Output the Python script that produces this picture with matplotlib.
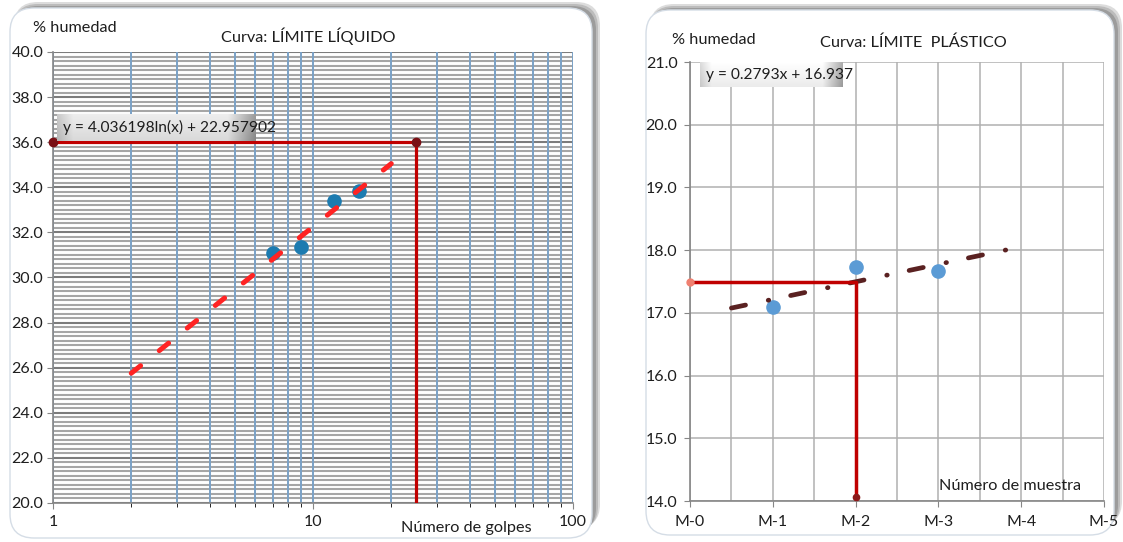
import matplotlib.pyplot as plt
import numpy as np
from matplotlib.patches import FancyBboxPatch
from matplotlib.ticker import MultipleLocator, NullFormatter, FuncFormatter, FormatStrFormatter

plt.rcParams['font.family'] = ['Lato', 'DejaVu Sans']
plt.rcParams['lines.scale_dashes'] = False

W, H = 1123, 542

# límite líquido
golpes = [7, 9, 12, 15]
humedad_ll = [31.1, 31.35, 33.4, 33.85]
a_ll, b_ll = 4.036198, 22.957902
golpes_ref = [1, 25, 25]
humedad_ref_ll = [36.0, 36.0, 20.0]

# límite plástico
muestras = [1, 2, 3]
humedad_lp = [17.10, 17.73, 17.66]
m_lp, c_lp = 0.2793, 16.937
muestra_ref = [0, 2, 2]
humedad_ref_lp = [17.5, 17.5, 14.0]
etiquetas_m = ['M-0', 'M-1', 'M-2', 'M-3', 'M-4', 'M-5']

TXT = '#1e1e1e'


def box(x0, y0, x1, y1):
    # pixel rect (origin top-left) -> figure fraction
    return [x0 / W, 1 - y1 / H, (x1 - x0) / W, (y1 - y0) / H]


def ft(x, y):
    return x / W, 1 - y / H


fig = plt.figure(figsize=(W / 100, H / 100), dpi=100)

# marcos redondeados con sombra arriba/derecha
bg = fig.add_axes([0, 0, 1, 1])
bg.set_xlim(0, W)
bg.set_ylim(H, 0)
bg.axis('off')
for x0, y0, x1, y1 in [(10, 8, 592, 538), (646, 10, 1114, 535)]:
    for k, c in enumerate(['#dcdcdc', '#bcbcbc', '#9c9c9c']):
        d = 6 - 2 * k
        bg.add_patch(FancyBboxPatch((x0 + 4, y0 - d), x1 - x0 + d - 2, y1 - y0 - 4,
                                    boxstyle='round,pad=0,rounding_size=24',
                                    fc=c, ec='none'))
    bg.add_patch(FancyBboxPatch((x0, y0), x1 - x0, y1 - y0,
                                boxstyle='round,pad=0,rounding_size=24',
                                fc='white', ec='#d5dde6', lw=1))


def estilo(ax):
    for s in ['top', 'right']:
        ax.spines[s].set_visible(False)
    for s in ['left', 'bottom']:
        ax.spines[s].set_color('#868686')
        ax.spines[s].set_linewidth(1.2)
    ax.tick_params(labelsize=11.5, labelcolor=TXT, color='#868686')


# ---- Curva: límite líquido ----
ax1 = fig.add_axes(box(53, 52, 573, 503))
ax1.set_xscale('log')
ax1.set_xlim(1, 100)
ax1.set_ylim(20, 40)
ax1.yaxis.set_major_locator(MultipleLocator(2))
ax1.yaxis.set_minor_locator(MultipleLocator(0.2))
ax1.yaxis.set_major_formatter(FormatStrFormatter('%.1f'))
ax1.xaxis.set_major_formatter(FuncFormatter(lambda v, p: f'{v:g}'))
ax1.xaxis.set_minor_formatter(NullFormatter())
ax1.yaxis.grid(True, which='minor', color='#a6a6a6', lw=1.5)
ax1.yaxis.grid(True, which='major', color='#7c7c7c', lw=1.5)
ax1.xaxis.grid(True, which='both', color='#7aa1c6', lw=1.4)
ax1.xaxis.set_zorder(1.7)
estilo(ax1)
ax1.tick_params(axis='y', which='major', length=4, pad=3)
ax1.tick_params(axis='y', which='minor', length=0)
ax1.tick_params(axis='x', which='major', length=4, pad=5)
ax1.tick_params(axis='x', which='minor', length=3)

xs = np.linspace(2, 20, 200)
ax1.plot(golpes, humedad_ll, 'o', color='#1c7bb0', ms=9.5, zorder=3)
ax1.plot(xs, a_ll * np.log(xs) + b_ll, color='#ff2323', lw=3.6,
         dashes=(8.6, 17.3), dash_capstyle='round', zorder=4)
ax1.plot(golpes_ref, humedad_ref_ll, color='#c00000', lw=2.3, zorder=5)
ax1.plot(golpes_ref[:2], humedad_ref_ll[:2], 'o', color='#7a1015', ms=6,
         zorder=6, clip_on=False)

# ---- Curva: límite plástico ----
ax2 = fig.add_axes(box(690, 62, 1104, 501))
ax2.set_xlim(0, 5)
ax2.set_ylim(14, 21)
ax2.set_xticks(range(6))
ax2.set_xticklabels(etiquetas_m)
ax2.xaxis.set_minor_locator(MultipleLocator(0.5))
ax2.yaxis.set_major_locator(MultipleLocator(1))
ax2.yaxis.set_major_formatter(FormatStrFormatter('%.1f'))
ax2.xaxis.grid(True, which='both', color='#b0b0b0', lw=1.1)
ax2.yaxis.grid(True, which='major', color='#b0b0b0', lw=1.1)
estilo(ax2)
ax2.tick_params(axis='y', length=4, pad=5)
ax2.tick_params(axis='x', which='major', length=4, pad=6)
ax2.tick_params(axis='x', which='minor', length=0)

xs2 = np.linspace(0.5, 3.82, 100)
ax2.plot(muestras, humedad_lp, 'o', color='#5b9bd5', ms=9.5, zorder=3)
ax2.plot(xs2, m_lp * xs2 + c_lp, color='#5a2121', lw=3.4,
         dashes=(10.4, 16.7, 0.4, 16.1), dash_capstyle='round', zorder=4)
ax2.plot(muestra_ref, humedad_ref_lp, color='#c00000', lw=2.5, zorder=5)
ax2.plot(muestra_ref[0], humedad_ref_lp[0], 'o', color='#f08070', ms=5,
         zorder=6, clip_on=False)
ax2.plot(muestra_ref[2], humedad_ref_lp[2] + 0.07, 'o', color='#8b1a1a', ms=4.5,
         zorder=6, clip_on=False)


# etiquetas de ecuación con fondo degradado
def eq_box(x0, y0, x1, y1, texto, base):
    bx = fig.add_axes(box(x0, y0, x1, y1))
    bx.axis('off')
    t = np.linspace(0, 1, 200)
    perfil = np.full_like(t, base)
    perfil = np.where(t < 0.08, base - 0.14 * (1 - t / 0.08), perfil)
    perfil = np.where(t > 0.86, base - 0.32 * (t - 0.86) / 0.14, perfil)
    v = np.linspace(0.03, -0.05, 40)[:, None]
    img = np.clip(perfil[None, :] + v, 0, 1)
    bx.imshow(img, aspect='auto', cmap='gray', vmin=0, vmax=1,
              extent=[0, 1, 0, 1], interpolation='bilinear')
    fig.text(*ft(x0 + 6, (y0 + y1) / 2), texto, fontsize=11.2, color=TXT,
             va='center', ha='left')


eq_box(57, 114, 256, 141, f'y = {a_ll:.6f}ln(x) + {b_ll:.6f}', 0.90)
eq_box(700, 62, 842, 87, f'y = {m_lp:.4f}x + {c_lp:.3f}', 0.97)

# títulos y rótulos
fs = 11.7
fig.text(*ft(33, 28), '% humedad', fontsize=fs, va='center', ha='left', color=TXT)
fig.text(*ft(308, 36), 'Curva: LÍMITE LÍQUIDO', fontsize=fs, va='center', ha='center', color=TXT)
fig.text(*ft(466, 528), 'Número de golpes', fontsize=fs, va='center', ha='center', color=TXT)
fig.text(*ft(672, 40), '% humedad', fontsize=fs, va='center', ha='left', color=TXT)
fig.text(*ft(913, 43), 'Curva: LÍMITE  PLÁSTICO', fontsize=fs, va='center', ha='center', color=TXT)
fig.text(*ft(1010, 486), 'Número de muestra', fontsize=fs, va='center', ha='center', color=TXT)

fig.savefig('out.png', dpi=100)
